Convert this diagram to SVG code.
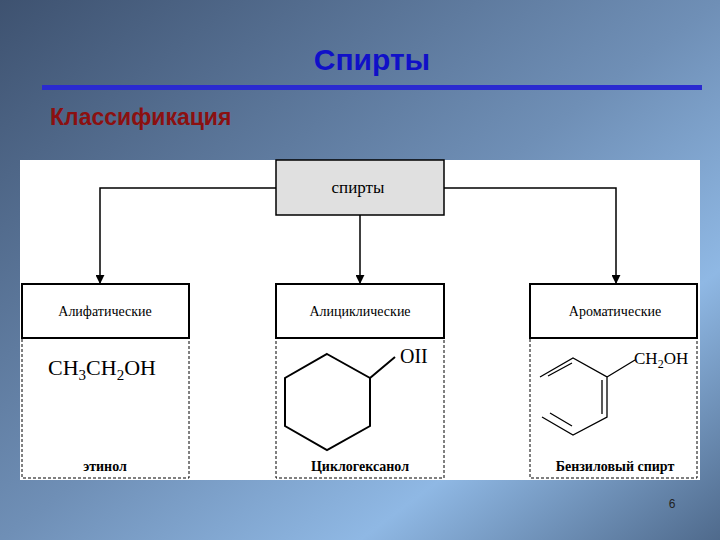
<svg xmlns="http://www.w3.org/2000/svg" width="720" height="540" viewBox="0 0 720 540">
<defs>
<linearGradient id="bg" x1="0" y1="0" x2="1" y2="1">
<stop offset="0" stop-color="#3e5270"/>
<stop offset="0.5" stop-color="#6f8fb6"/>
<stop offset="0.75" stop-color="#8fb8e4"/>
<stop offset="1" stop-color="#4f6a8c"/>
</linearGradient>
<marker id="ar" viewBox="0 0 10 10" refX="9" refY="5" markerWidth="6" markerHeight="6" orient="auto"><path d="M0,0L10,5L0,10z" fill="#000"/></marker>
<style>
.b{fill:#fff;stroke:#000;stroke-width:2}
.d{fill:none;stroke:#000;stroke-width:1;stroke-dasharray:3,2}
.t{font-family:"Liberation Serif",serif;font-size:14px;text-anchor:middle}
.f{font-family:"Liberation Serif",serif;font-weight:bold;font-size:14px;text-anchor:middle}
.c{fill:none;stroke:#000;stroke-width:2}
</style>
</defs>
<rect width="720" height="540" fill="url(#bg)"/>
<text x="372" y="70" font-family="Liberation Sans,sans-serif" font-weight="bold" font-size="30" fill="#1010c8" text-anchor="middle">Спирты</text>
<rect x="42" y="85" width="660" height="5" fill="#2a2ad0"/>
<text x="50" y="125" font-family="Liberation Sans,sans-serif" font-weight="bold" font-size="23" fill="#8b1010">Классификация</text>
<rect x="20" y="160" width="680" height="320" fill="#fff"/>
<g id="connectors" fill="none" stroke="#000" stroke-width="1.5">
<path d="M276,188H100V283" marker-end="url(#ar)"/>
<path d="M444,188H616V283" marker-end="url(#ar)"/>
<path d="M360,215V283" marker-end="url(#ar)"/>
</g>
<g id="root"><rect x="276" y="160" width="168" height="55" fill="#e0e0e0" stroke="#000" stroke-width="1.5"/><text class="t" x="358" y="193" style="font-size:17px">спирты</text></g>
<g id="aliph">
<rect class="b" x="22" y="284" width="167" height="54"/><text class="t" x="105" y="316">Алифатические</text>
<rect class="d" x="22" y="338" width="167" height="140"/>
<text x="48" y="375" font-family="Liberation Serif,serif" font-size="22">CH<tspan font-size="15" dy="5">3</tspan><tspan dy="-5">CH</tspan><tspan font-size="15" dy="5">2</tspan><tspan dy="-5">OH</tspan></text>
<text class="f" x="105" y="471">этинол</text>
</g>
<g id="alicyc">
<rect class="b" x="276" y="284" width="168" height="54"/><text class="t" x="360" y="316">Алициклические</text>
<rect class="d" x="276" y="338" width="168" height="140"/>
<path class="c" d="M327,354L370,378V426L327,450L285,426V378Z M370,378L395,357"/>
<text x="400" y="363" font-family="Liberation Serif,serif" font-size="20">OII</text>
<text class="f" x="360" y="471" font-weight="normal">Циклогексанол</text>
</g>
<g id="arom">
<rect class="b" x="530" y="284" width="167" height="54"/><text class="t" x="615" y="316">Ароматические</text>
<rect class="d" x="530" y="338" width="167" height="140"/>
<g fill="none" stroke="#000" stroke-width="1.3">
<path d="M540,377L573,358L607,377V417L573,435L542,417"/>
<path d="M548,376L572,363M550,413L572,426M602,380V414M607,377L635,360"/>
</g>
<text x="634" y="364" font-family="Liberation Serif,serif" font-size="17">CH<tspan font-size="12" dy="4">2</tspan><tspan dy="-4">OH</tspan></text>
<text class="f" x="615" y="471">Бензиловый спирт</text>
</g>
<text x="672" y="508" font-family="Liberation Sans,sans-serif" font-size="12" fill="#222" text-anchor="middle">6</text>
</svg>
